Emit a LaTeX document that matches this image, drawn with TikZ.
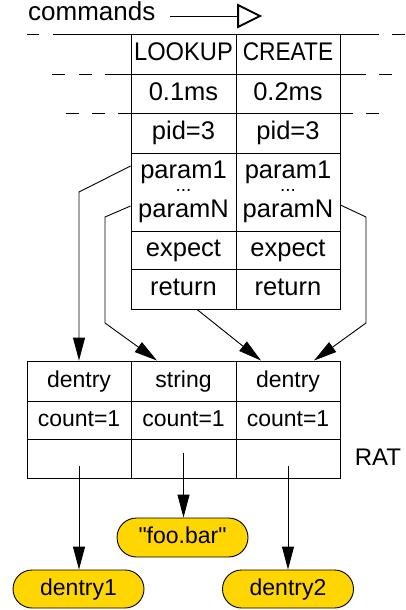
\documentclass[tikz,border=0pt]{standalone}
\usepackage{fontspec}
\setmainfont{Liberation Sans}[Ligatures=TeXOff]
\usetikzlibrary{arrows.meta,shapes.misc,calc}
\definecolor{tokfill}{RGB}{255,214,0}

\tikzset{
  rule/.style={line width=0.8pt},
  cell/.style={draw, line width=0.9pt, inner sep=0pt, anchor=center},
  bigtxt/.style={font=\fontsize{25.5}{30}\selectfont, text height=18pt, text depth=5pt},
  smalltxt/.style={font=\fontsize{23}{27}\selectfont, text height=16pt, text depth=4pt},
  tok/.style={rounded rectangle, draw, line width=0.9pt, fill=tokfill, inner sep=0pt,
    minimum width=131pt, minimum height=38pt, font=\fontsize{23}{27}\selectfont,
    text height=16pt, text depth=4pt},
  lbl/.style={inner sep=0pt, anchor=base, font=\fontsize{25.5}{30}\selectfont,
    text height=18pt, text depth=3pt},
  dots/.style={inner sep=0pt, anchor=base, font=\fontsize{19}{22}\selectfont,
    text height=2.5pt, text depth=0pt},
  arr/.style={line width=0.9pt, -{Triangle[length=23pt,width=12pt]}},
  opentip/.style={line width=2pt, line join=miter},
}

\begin{document}
\begin{tikzpicture}[x=1pt,y=-1pt]
\useasboundingbox (0,0) rectangle (406,610);

% heading and its open-headed arrow
\node[inner sep=0pt, anchor=base west, font=\fontsize{26}{30}\selectfont] (cmd) at (28,21) {commands};
\coordinate (cmdtail) at (170,16);
\coordinate (cmdbase) at (238,16);
\coordinate (cmdtip) at (260,16);
\draw[line width=0.9pt] (cmdtail) -- (cmdbase);
\draw[opentip] ([yshift=11pt]cmdbase) -- (cmdtip) -- ([yshift=-11pt]cmdbase) -- cycle;

% broken guide lines across the command table
\foreach \a/\b in {27/39,53/379,392/405} \draw[rule] (\a,34) -- (\b,34);
\foreach \a/\b in {52/65,79/92,105/366,379/392} \draw[rule] (\a,74) -- (\b,74);
\foreach \a/\b in {66/79,92/105,118/353,366/379} \draw[rule] (\a,113) -- (\b,113);

% command table
\node[cell, bigtxt, minimum width=105pt, minimum height=40pt] (cL) at (183.5,54) {\scalebox{0.93}[1]{LOOKUP}};
\node[cell, bigtxt, minimum width=104pt, minimum height=40pt] (cR) at (288,54) {\scalebox{0.89}[1]{CREATE}};
\node[cell, bigtxt, minimum width=105pt, minimum height=39pt] (tL) at (183.5,93.5) {0.1ms};
\node[cell, bigtxt, minimum width=104pt, minimum height=39pt] (tR) at (288,93.5) {0.2ms};
\node[cell, bigtxt, minimum width=105pt, minimum height=40pt] (iL) at (183.5,133) {pid=3};
\node[cell, bigtxt, minimum width=104pt, minimum height=40pt] (iR) at (288,133) {pid=3};
\node[cell, minimum width=105pt, minimum height=78pt] (pL) at (183.5,192) {};
\node[cell, minimum width=104pt, minimum height=78pt] (pR) at (288,192) {};
\node[cell, bigtxt, minimum width=105pt, minimum height=38pt] (eL) at (183.5,250) {expect};
\node[cell, bigtxt, minimum width=104pt, minimum height=38pt] (eR) at (288,250) {expect};
\node[cell, bigtxt, minimum width=105pt, minimum height=40pt] (rL) at (183.5,289) {return};
\node[cell, bigtxt, minimum width=104pt, minimum height=40pt] (rR) at (288,289) {return};

% parameter lists
\node[lbl] (pL1) at (183.5,178) {param1};
\node[dots] (pLd) at (183.5,191.5) {...};
\node[lbl] (pLN) at (183.5,217) {paramN};
\node[lbl] (pR1) at (288,178) {param1};
\node[dots] (pRd) at (288,191.5) {...};
\node[lbl] (pRN) at (288,217) {paramN};

% RAT table
\node[cell, smalltxt, minimum width=104pt, minimum height=40pt] (ra1) at (79,381) {dentry};
\node[cell, smalltxt, minimum width=105pt, minimum height=40pt] (rb1) at (183.5,381) {string};
\node[cell, smalltxt, minimum width=104pt, minimum height=40pt] (rc1) at (288,381) {dentry};
\node[cell, smalltxt, minimum width=104pt, minimum height=38pt] (ra2) at (79,420) {count=1};
\node[cell, smalltxt, minimum width=105pt, minimum height=38pt] (rb2) at (183.5,420) {count=1};
\node[cell, smalltxt, minimum width=104pt, minimum height=38pt] (rc2) at (288,420) {count=1};
\node[cell, minimum width=104pt, minimum height=39pt] (ra3) at (79,458.5) {};
\node[cell, minimum width=105pt, minimum height=39pt] (rb3) at (183.5,458.5) {};
\node[cell, minimum width=104pt, minimum height=39pt] (rc3) at (288,458.5) {};
\node[inner sep=0pt, anchor=base, font=\fontsize{24}{28}\selectfont] (rat) at (378,465) {RAT};

% referenced objects
\node[tok] (o1) at (78.5,589) {dentry1};
\node[tok, minimum height=39pt] (o2) at (182.5,537.5) {"foo.bar"};
\node[tok] (o3) at (288,589) {dentry2};

% arguments into the RAT
\draw[arr] ([yshift=26pt]pL.west) -- (79,192) -- (ra1.north);
\draw[arr] ([yshift=-14pt]pL.west) -- (105,217) -- (105,323) -- ([xshift=-26.5pt]rb1.north);
\draw[arr] ([xshift=13.5pt]rL.south) -- ([xshift=-27pt]rc1.north);
\draw[arr] ([yshift=-13pt]pR.east) -- (366,217) -- (366,323) -- ([xshift=26pt]rc1.north);

% RAT entries to objects
\draw[arr] ([yshift=-7.5pt]ra3.center) -- (ra3.center |- o1.north);
\draw[arr] ([yshift=5.5pt]rb3.center) -- (rb3.center |- o2.north);
\draw[arr] ([yshift=-7.5pt]rc3.center) -- (o3.north);
\end{tikzpicture}
\end{document}
